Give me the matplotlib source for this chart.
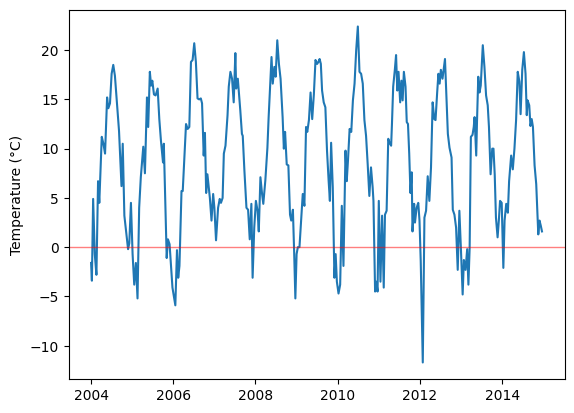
import matplotlib
matplotlib.use("Agg")
import matplotlib.pyplot as plt
import numpy as np

# weekly-ish mean temperature (decimal year, degrees C)
years_2004_2005 = [
    2004.00, 2004.02, 2004.05, 2004.09, 2004.13, 2004.17, 2004.20, 2004.26, 2004.30, 2004.34,
    2004.39, 2004.42, 2004.46, 2004.50, 2004.54, 2004.58, 2004.63, 2004.68, 2004.74, 2004.77,
    2004.81, 2004.86, 2004.90, 2004.93, 2004.97, 2005.01, 2005.05, 2005.09, 2005.13, 2005.17,
    2005.21, 2005.27, 2005.31, 2005.36, 2005.39, 2005.43, 2005.46, 2005.49, 2005.53, 2005.57,
    2005.62, 2005.66, 2005.70, 2005.75, 2005.77, 2005.84, 2005.87, 2005.91, 2005.98,
]
temps_2004_2005 = [
    -1.6, -3.4, 4.9, -0.7, -2.8, 6.7, 4.5, 11.2, 10.5, 9.5,
    15.2, 14.1, 14.6, 17.6, 18.5, 17.4, 14.6, 11.8, 6.2, 10.5,
    3.2, 1.3, -0.2, 0.4, 4.5, -0.7, -3.8, -1.6, -5.2, 4.0,
    7.1, 10.2, 7.5, 15.2, 12.2, 17.8, 16.4, 16.9, 15.5, 15.4,
    16.1, 13.0, 10.8, 8.6, 10.5, -1.1, 0.8, 0.3, -4.1,
]

years_2006_2007 = [
    2006.05, 2006.09, 2006.12, 2006.15, 2006.20, 2006.23, 2006.31, 2006.35, 2006.39, 2006.43,
    2006.47, 2006.51, 2006.55, 2006.59, 2006.63, 2006.67, 2006.70, 2006.74, 2006.77, 2006.80,
    2006.83, 2006.89, 2006.93, 2006.97, 2007.00, 2007.04, 2007.09, 2007.13, 2007.16, 2007.20,
    2007.23, 2007.27, 2007.32, 2007.35, 2007.39, 2007.43, 2007.47, 2007.51, 2007.53, 2007.57,
    2007.63, 2007.67, 2007.69, 2007.73, 2007.78, 2007.82, 2007.86, 2007.90, 2007.93, 2007.97,
]
temps_2006_2007 = [
    -5.9, -0.3, -3.1, -1.9, 5.7, 5.7, 12.5, 12.0, 12.2, 18.8,
    19.0, 20.7, 18.8, 15.1, 15.0, 15.1, 14.6, 9.3, 11.6, 5.5,
    7.4, 5.0, 2.7, 5.4, 4.0, 0.7, 4.0, 4.9, 4.5, 5.0,
    9.5, 10.3, 13.4, 16.3, 17.8, 17.1, 14.7, 19.7, 16.1, 17.1,
    13.9, 11.5, 11.3, 7.8, 4.0, 3.8, 0.8, 4.4, -3.1, 2.0,
]

years_2008_2009 = [
    2008.01, 2008.05, 2008.08, 2008.12, 2008.16, 2008.19, 2008.24, 2008.29, 2008.32, 2008.36,
    2008.39, 2008.42, 2008.46, 2008.49, 2008.53, 2008.57, 2008.61, 2008.66, 2008.69, 2008.72,
    2008.76, 2008.80, 2008.84, 2008.87, 2008.91, 2008.94, 2008.97, 2009.00, 2009.03, 2009.07,
    2009.11, 2009.15, 2009.19, 2009.23, 2009.26, 2009.30, 2009.34, 2009.38, 2009.42, 2009.46,
    2009.50, 2009.53, 2009.56, 2009.59, 2009.62, 2009.66, 2009.70, 2009.74, 2009.78, 2009.81,
    2009.84, 2009.88, 2009.92, 2009.95, 2009.98,
]
temps_2008_2009 = [
    4.7, 3.7, 1.6, 7.1, 5.4, 4.4, 6.8, 10.1, 13.2, 16.6,
    19.3, 16.6, 18.3, 17.3, 21.0, 18.6, 17.1, 13.2, 10.0, 11.7,
    8.4, 8.3, 3.3, 2.7, 3.8, -0.4, -5.2, -0.7, 0.0, 0.0,
    2.7, 5.4, 4.2, 12.2, 11.7, 12.9, 15.7, 13.0, 15.5, 19.0,
    18.6, 18.8, 19.1, 18.6, 15.9, 14.7, 14.2, 9.8, 6.7, 4.7,
    10.6, 6.1, -3.1, -0.7, -3.5,
]

years_2010_2011 = [
    2010.02, 2010.06, 2010.10, 2010.14, 2010.19, 2010.22, 2010.25, 2010.29, 2010.33, 2010.37,
    2010.41, 2010.45, 2010.49, 2010.53, 2010.57, 2010.61, 2010.65, 2010.69, 2010.73, 2010.77,
    2010.81, 2010.85, 2010.87, 2010.91, 2010.94, 2010.97, 2011.00, 2011.04, 2011.08, 2011.12,
    2011.15, 2011.19, 2011.23, 2011.26, 2011.30, 2011.32, 2011.35, 2011.39, 2011.42, 2011.45,
    2011.48, 2011.52, 2011.55, 2011.58, 2011.61, 2011.65, 2011.68, 2011.71, 2011.74, 2011.77,
    2011.80, 2011.82, 2011.86, 2011.88, 2011.92, 2011.96, 2011.99,
]
temps_2010_2011 = [
    -4.7, -3.8, 4.2, -1.9, 9.8, 6.7, 8.8, 12.0, 11.7, 14.9,
    16.6, 20.0, 22.4, 17.8, 17.6, 16.6, 12.9, 11.3, 8.4, 5.2,
    8.1, 6.1, 4.7, -4.5, -3.5, -4.5, 4.7, -3.5, 3.2, -4.1,
    3.3, 3.7, 11.0, 10.6, 10.3, 12.5, 16.3, 18.0, 19.5, 15.9,
    17.8, 14.7, 16.9, 14.9, 17.8, 16.3, 12.7, 12.5, 9.5, 5.5,
    7.6, 1.6, 4.4, 2.5, 4.0, 4.5, 2.7,
]

years_2012_2014 = [
    2012.02, 2012.07, 2012.11, 2012.15, 2012.19, 2012.23, 2012.27, 2012.31, 2012.35, 2012.38,
    2012.42, 2012.45, 2012.48, 2012.51, 2012.55, 2012.58, 2012.61, 2012.68, 2012.72, 2012.77,
    2012.80, 2012.84, 2012.88, 2012.92, 2012.96, 2013.00, 2013.04, 2013.07, 2013.11, 2013.15,
    2013.18, 2013.21, 2013.24, 2013.28, 2013.31, 2013.33, 2013.37, 2013.39, 2013.42, 2013.45,
    2013.48, 2013.53, 2013.57, 2013.61, 2013.65, 2013.68, 2013.72, 2013.76, 2013.79, 2013.82,
    2013.85, 2013.89, 2013.92, 2013.95, 2013.99, 2014.03, 2014.06, 2014.10, 2014.14, 2014.17,
    2014.22, 2014.26, 2014.30, 2014.34, 2014.38, 2014.42, 2014.45, 2014.49, 2014.53, 2014.57,
    2014.60, 2014.62, 2014.66, 2014.69, 2014.72, 2014.75, 2014.79, 2014.83, 2014.85, 2014.88,
    2014.91, 2014.94, 2014.97,
]
temps_2012_2014 = [
    -1.4, -11.7, 3.0, 3.7, 7.2, 4.7, 8.1, 14.7, 13.0, 12.9,
    15.7, 17.6, 16.6, 18.0, 17.1, 18.1, 19.1, 11.5, 10.1, 9.1,
    3.8, 3.3, 2.0, -2.3, 3.7, -0.4, -4.8, -1.3, -2.3, -0.2,
    -3.8, -0.1, 11.2, 11.4, 12.2, 13.2, 9.3, 12.9, 17.3, 15.7,
    16.4, 20.5, 18.3, 15.4, 14.4, 12.2, 7.4, 10.0, 10.0, 7.4,
    3.0, 1.0, 2.7, 4.7, 4.5, -2.1, 2.7, 4.4, 3.5, 6.7,
    9.3, 7.9, 10.0, 12.9, 17.8, 16.8, 13.5, 18.0, 19.8, 17.6,
    13.4, 14.9, 14.4, 12.3, 13.0, 12.2, 8.3, 6.4, 4.4, 1.3,
    2.7, 2.2, 1.6,
]

years = np.array(years_2004_2005 + years_2006_2007 + years_2008_2009
                 + years_2010_2011 + years_2012_2014)
temps = np.array(temps_2004_2005 + temps_2006_2007 + temps_2008_2009
                 + temps_2010_2011 + temps_2012_2014)

fig, ax = plt.subplots(figsize=(6.4, 4.8), dpi=100)
ax.plot(years, temps, color="#1f77b4", linewidth=1.5)
ax.axhline(0, color="red", linewidth=1.0, alpha=0.5)
ax.set_ylabel("Temperature (°C)")
ax.set_xticks([2004, 2006, 2008, 2010, 2012, 2014])
ax.set_xticklabels(["2004", "2006", "2008", "2010", "2012", "2014"])
fig.savefig("out.png", dpi=100, bbox_inches="tight")
